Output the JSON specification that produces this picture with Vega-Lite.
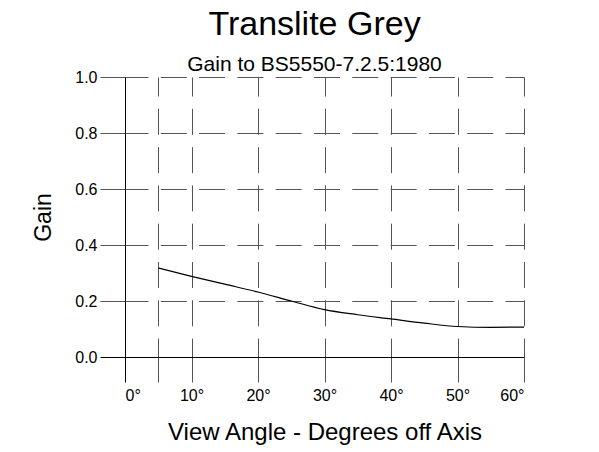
{
  "$schema": "https://vega.github.io/schema/vega-lite/v6.json",
  "width": 399,
  "height": 280,
  "autosize": "none",
  "padding": {"left": 125, "top": 77, "right": 75, "bottom": 95},
  "background": "white",
  "title": {
    "text": "Translite Grey",
    "subtitle": "Gain to BS5550-7.2.5:1980",
    "font": "Liberation Sans",
    "fontSize": 34,
    "fontWeight": "normal",
    "color": "black",
    "subtitleFont": "Liberation Sans",
    "subtitleFontSize": 21,
    "subtitleColor": "black",
    "subtitlePadding": 12,
    "anchor": "middle",
    "offset": -6,
    "dx": -10
  },
  "config": {
    "view": {"stroke": null},
    "axis": {
      "domainColor": "black",
      "domainWidth": 1,
      "tickSize": 25,
      "tickWidth": 1,
      "tickColor": {"condition": {"test": "datum.value === 0", "value": "black"}, "value": "#555"},
      "grid": true,
      "gridWidth": 1,
      "gridOpacity": 1,
      "gridColor": {"condition": {"test": "datum.value === 0", "value": "black"}, "value": "#555"},
      "gridDash": {"condition": {"test": "datum.value === 0", "value": []}, "value": [26, 12.3]},
      "labelFont": "Liberation Sans",
      "labelFontSize": 16,
      "labelColor": "black",
      "titleFont": "Liberation Sans",
      "titleFontSize": 24,
      "titleFontWeight": "normal",
      "titleColor": "black"
    }
  },
  "data": {
    "values": [
      {"angle": 5, "gain": 0.318},
      {"angle": 10, "gain": 0.288},
      {"angle": 15, "gain": 0.26},
      {"angle": 20, "gain": 0.232},
      {"angle": 25, "gain": 0.2},
      {"angle": 30, "gain": 0.169},
      {"angle": 35, "gain": 0.151},
      {"angle": 40, "gain": 0.136},
      {"angle": 45, "gain": 0.121},
      {"angle": 50, "gain": 0.109},
      {"angle": 55, "gain": 0.106},
      {"angle": 60, "gain": 0.107}
    ]
  },
  "mark": {"type": "line", "color": "black", "strokeWidth": 1.2, "interpolate": "monotone"},
  "encoding": {
    "x": {
      "field": "angle",
      "type": "quantitative",
      "scale": {"domain": [0, 60], "nice": false},
      "axis": {
        "values": [0, 5, 10, 20, 30, 40, 50, 60],
        "labelExpr": "datum.value == 5 ? '' : datum.value + '°'",
        "labelPadding": 5,
        "title": "View Angle - Degrees off Axis",
        "titlePadding": 17,
        "gridDashOffset": 7
      }
    },
    "y": {
      "field": "gain",
      "type": "quantitative",
      "scale": {"domain": [0, 1], "nice": false},
      "axis": {
        "values": [0, 0.2, 0.4, 0.6, 0.8, 1],
        "format": ".1f",
        "labelPadding": 3,
        "title": "Gain",
        "titleFontSize": 23,
        "titlePadding": 19,
        "gridDashOffset": 3
      }
    }
  }
}
